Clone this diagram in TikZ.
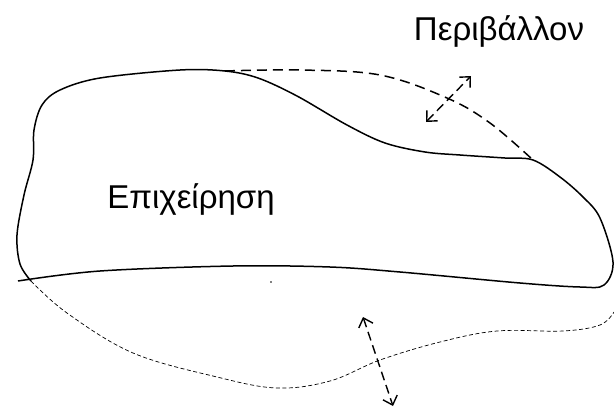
\documentclass[tikz,border=0pt]{standalone}
\usepackage{fontspec}
\setmainfont{Liberation Sans}
\usetikzlibrary{arrows.meta}
\tikzset{
  outline/.style={line width=1.5pt},
  envline/.style={line width=1.5pt, dash pattern=on 10pt off 6pt},
  envthin/.style={line width=0.7pt, dash pattern=on 4pt off 2.5pt},
  flow/.style={line width=1.4pt, dash pattern=on 9pt off 5pt, {Straight Barb[length=8pt,width=15pt]}-{Straight Barb[length=8pt,width=15pt]}},
  label/.style={font=\fontsize{33}{40}\selectfont, inner sep=0pt, anchor=base},
}
\begin{document}
\begin{tikzpicture}[x=1pt,y=-1pt]
    \useasboundingbox (0,0) rectangle (614,407);

    % Define the end points of the arrows
    \coordinate (U1) at (426,122);
    \coordinate (U2) at (471,76);
    \coordinate (L1) at (363,317);
    \coordinate (L2) at (393,406);

    % Draw the enterprise
    \draw[outline] plot[smooth, tension=0.55] coordinates {
      (18,281) (100,271) (233,266) (330,267) (400,272) (520,283) (580,287)
      (604,285) (613,262) (600,218) (583,197) (560,177) (533,160) (505,158)
      (460,155) (425,152) (385,143) (347,125) (297,96) (258,78) (225,71)
      (180,70) (100,78) (60,90) (42,105) (34,130) (33,160) (24,195)
      (17,235) (20,264) (31,281)};

    % Draw the environment
    \draw[envline] plot[smooth, tension=0.6] coordinates {
      (225,71) (300,70) (380,75) (447,98) (490,123) (533,160)};
    \draw[envthin] plot[smooth, tension=0.6] coordinates {
      (31,281) (67,313) (133,353) (217,377) (277,388) (330,381) (380,360)
      (440,342) (497,331) (563,331) (600,325) (614,312)};

    % Draw the arrows
    \draw[flow] (U1) -- (U2);
    \draw[flow] (L1) -- (L2);
    \fill (271,282) circle (0.9pt);

    % Label the regions
    \node[label] (ent) at (191,208) {Επιχείρηση};
    \node[label] (env) at (499,40) {Περιβάλλον};
\end{tikzpicture}
\end{document}
